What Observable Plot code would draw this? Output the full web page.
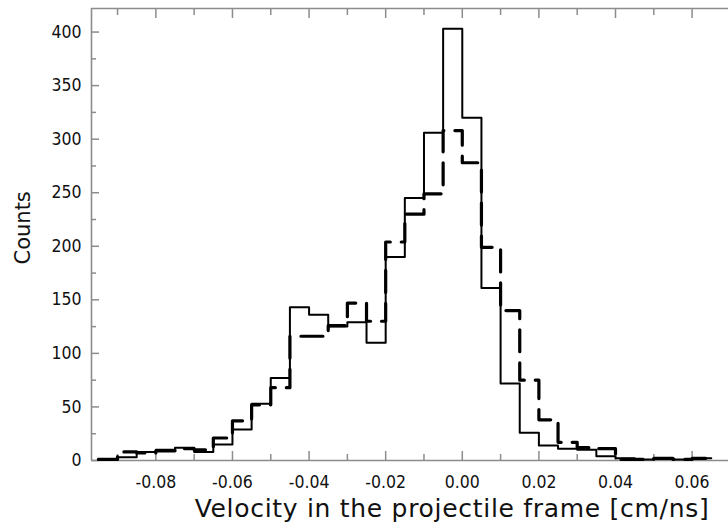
<!DOCTYPE html>
<html>
<head>
<meta charset="utf-8">
<script src="https://cdn.jsdelivr.net/npm/d3@7"></script>
<script src="https://cdn.jsdelivr.net/npm/@observablehq/plot@0.6"></script>
<style>
  html, body { margin: 0; padding: 0; background: #fff; }
  svg { font-family: "DejaVu Sans Condensed", "DejaVu Sans", sans-serif; font-stretch: condensed; }
  svg .title-text { font-family: "DejaVu Sans", sans-serif; font-stretch: normal; }
  svg .xtitle { letter-spacing: 0.7px; }
</style>
</head>
<body>
<div id="chart"></div>
<script>
// Bin left edges (bin width 0.005 cm/ns)
const binEdges = [-0.095, -0.09, -0.085, -0.08, -0.075, -0.07, -0.065, -0.06, -0.055, -0.05,
  -0.045, -0.04, -0.035, -0.03, -0.025, -0.02, -0.015, -0.01, -0.005, 0,
  0.005, 0.01, 0.015, 0.02, 0.025, 0.03, 0.035, 0.04, 0.045, 0.05, 0.055, 0.06, 0.065];
// Solid histogram counts
const solidCounts = [1, 3, 8, 10, 12, 8, 15, 29, 53, 77,
  143, 136, 125, 129, 110, 190, 245, 306, 403, 320,
  161, 72, 26, 14, 11, 10, 4, 2, 1, 2, 1, 2];
// Dashed histogram counts
const dashedCounts = [1, 8, 7, 9, 11, 10, 21, 37, 52, 68,
  116, 116, 126, 147, 130, 204, 230, 249, 308, 278,
  199, 140, 75, 38, 17, 12, 11, 1, 1, 2, 1, 2];

const xMajorTicks = [-0.08, -0.06, -0.04, -0.02, 0, 0.02, 0.04, 0.06];
const xMinorTicks = [-0.09, -0.07, -0.05, -0.03, -0.01, 0.01, 0.03, 0.05];
const yMajorTicks = [0, 50, 100, 150, 200, 250, 300, 350, 400];
const yMinorTicks = [25, 75, 125, 175, 225, 275, 325, 375];
const xDomain = [-0.0968, 0.0695];
const yDomain = [0, 422];

const xTitle = "Velocity in the projectile frame [cm/ns]";
const yTitle = "Counts";

function stepData(counts) {
  return binEdges.map((e, i) => ({x: e, y: counts[Math.min(i, counts.length - 1)]}));
}
const fmt = d => d3.format(".2f")(d).replace("\u2212", "-");
const axisGray = "#8c8c8c";

const chart = Plot.plot({
  width: 728,
  height: 526,
  marginLeft: 91,
  marginRight: 0,
  marginTop: 8,
  marginBottom: 66,
  x: {domain: xDomain, axis: null},
  y: {domain: yDomain, axis: null},
  marks: [
    // frame lines
    Plot.ruleY([yDomain[0]], {stroke: axisGray, strokeWidth: 1.6}),
    Plot.ruleY([yDomain[1]], {stroke: axisGray, strokeWidth: 1.6}),
    Plot.ruleX([xDomain[0]], {stroke: axisGray, strokeWidth: 1.6}),
    // inward ticks
    Plot.axisX(xMajorTicks, {anchor: "bottom", tickSize: -9, tickFormat: () => "", label: null, stroke: axisGray, strokeWidth: 1.5}),
    Plot.axisX(xMinorTicks, {anchor: "bottom", tickSize: -6, tickFormat: () => "", label: null, stroke: axisGray, strokeWidth: 1.5}),
    Plot.axisX(xMajorTicks, {anchor: "top", tickSize: -9, tickFormat: () => "", label: null, stroke: axisGray, strokeWidth: 1.5}),
    Plot.axisX(xMinorTicks, {anchor: "top", tickSize: -6, tickFormat: () => "", label: null, stroke: axisGray, strokeWidth: 1.5}),
    Plot.axisY(yMajorTicks, {anchor: "left", tickSize: -8, tickFormat: () => "", label: null, stroke: axisGray, strokeWidth: 1.5}),
    Plot.axisY(yMinorTicks, {anchor: "left", tickSize: -5, tickFormat: () => "", label: null, stroke: axisGray, strokeWidth: 1.5}),
    // tick labels
    Plot.axisX(xMajorTicks, {anchor: "bottom", tickSize: 0, tickPadding: 15, tickFormat: fmt, label: null, fontSize: 17.5, fill: "#111"}),
    Plot.axisY(yMajorTicks, {anchor: "left", tickSize: 0, tickPadding: 10, tickFormat: d => String(d), label: null, fontSize: 17.5, fill: "#111"}),
    // histograms
    Plot.line(stepData(solidCounts), {x: "x", y: "y", curve: "step-after", stroke: "#000", strokeWidth: 2}),
    Plot.line(stepData(dashedCounts), {x: "x", y: "y", curve: "step-after", stroke: "#000", strokeWidth: 3.2, strokeDasharray: "22,11"}),
    // titles
    Plot.text([xTitle], {frameAnchor: "bottom", dx: 42, dy: 56, fontSize: 25, fill: "#111", className: "title-text xtitle"}),
    Plot.text([yTitle], {frameAnchor: "left", dx: -68, dy: 30, rotate: -90, fontSize: 21, fill: "#111", className: "title-text"})
  ]
});
document.getElementById("chart").appendChild(chart);
</script>
</body>
</html>
